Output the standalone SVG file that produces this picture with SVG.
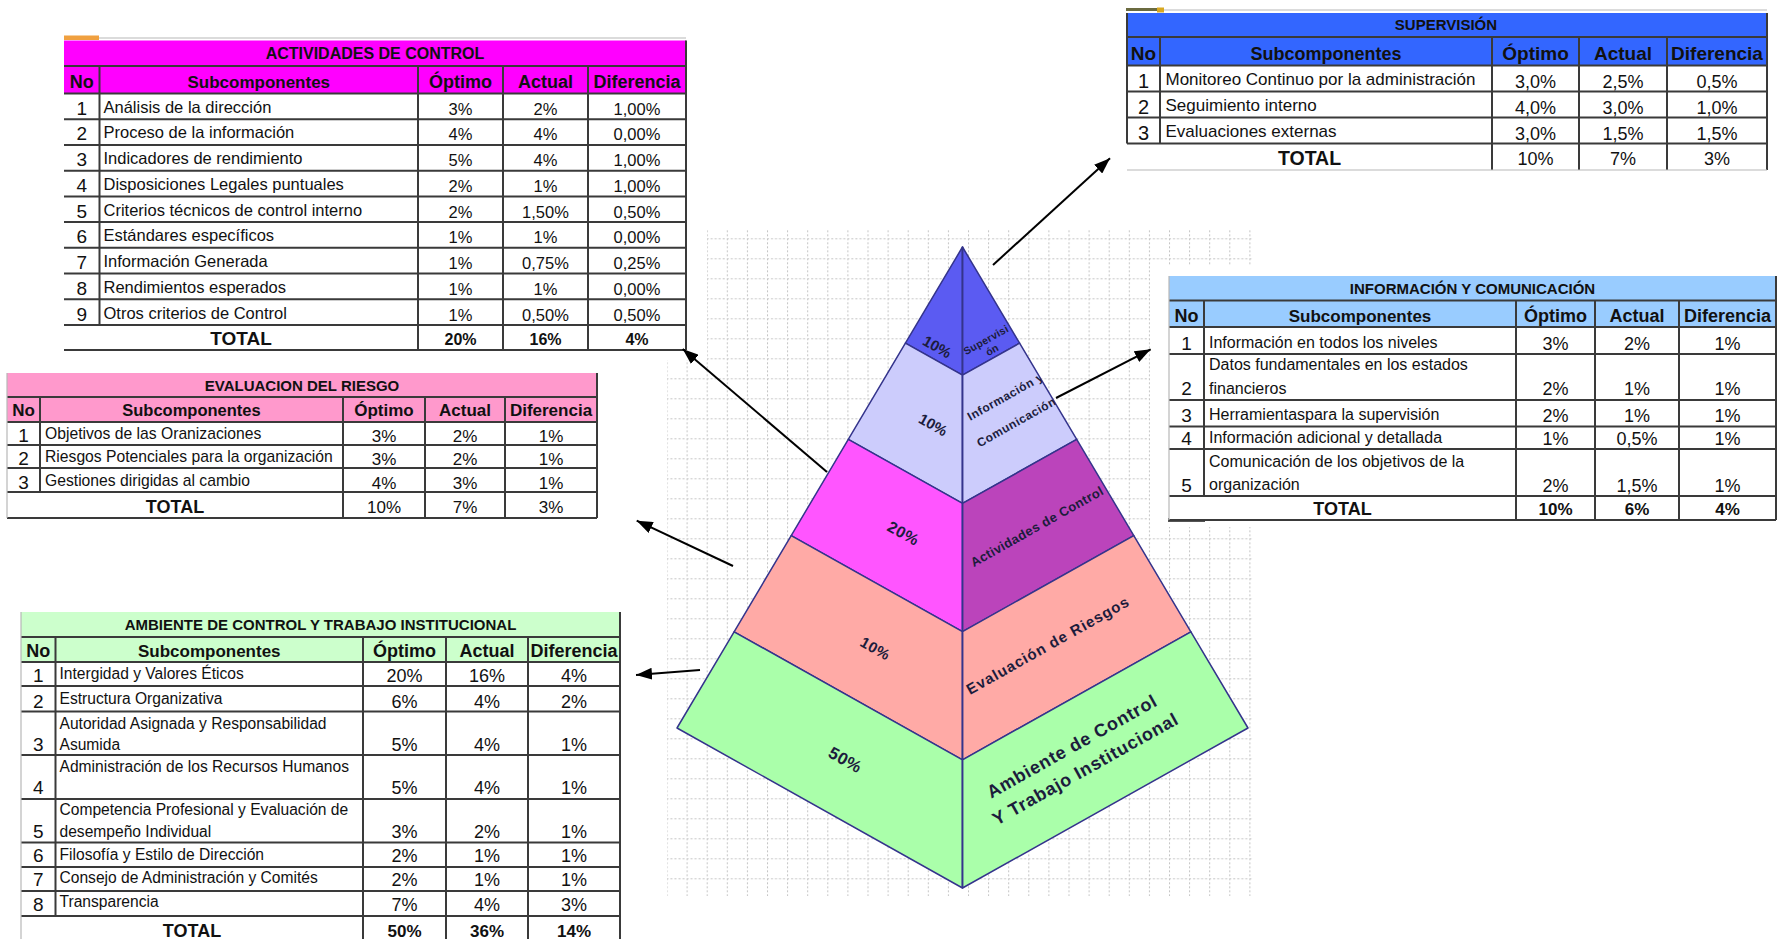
<svg xmlns="http://www.w3.org/2000/svg" width="1778" height="939" viewBox="0 0 1778 939">
<style>
text { font-family: "Liberation Sans", Arial, sans-serif; fill: #111; }
.b { font-weight: bold; }
.m { text-anchor: middle; }
.ln { stroke: #3a3a3a; stroke-width: 2; fill: none; }
.lt { stroke: #b8b8b8; stroke-width: 1.2; fill: none; }
.face { stroke: #34348c; stroke-width: 1.5; stroke-linejoin: round; }
.pl { font-weight: bold; fill: #1c1c3c; text-anchor: middle; }
.arr { stroke: #000; stroke-width: 2; fill: none; marker-end: url(#ah); }
</style>
<defs>
<pattern id="grid" x="706.7" y="238.3" width="20.1" height="20" patternUnits="userSpaceOnUse">
<path d="M0,0.5 H20.1 M0.5,0 V20" fill="none" stroke="#c4c4c4" stroke-width="1" stroke-dasharray="2 2"/>
</pattern>
<marker id="ah" viewBox="0 0 16 12" refX="16" refY="6" markerWidth="16" markerHeight="12" markerUnits="userSpaceOnUse" orient="auto">
<path d="M0,0 L16,6 L0,12 z" fill="#000"/>
</marker>
<clipPath id="clip1"><polygon points="962.5,247 1019.6,343.2 962.5,375.2 905.4,343.2"/></clipPath>
<clipPath id="clip2"><polygon points="905.4,343.2 962.5,375.2 1019.6,343.2 1076.7,439.4 962.5,503.4 848.3,439.4"/></clipPath>
<clipPath id="clip3"><polygon points="848.3,439.4 962.5,503.4 1076.7,439.4 1133.8,535.6 962.5,631.6 791.2,535.6"/></clipPath>
</defs>
<rect width="1778" height="939" fill="#fff"/>

<!-- background grid -->
<path d="M707,229 H1253 V266 H1150 V527 H1253 V896 H667 V360 H707 Z" fill="url(#grid)"/>

<!-- small sheet artifacts -->
<rect x="64" y="35.5" width="35" height="4.5" fill="#f0a040"/>
<path class="lt" d="M99,38 H686"/>
<rect x="1126" y="8" width="33" height="3" fill="#6b6b40"/>
<rect x="1157" y="7.5" width="7" height="5" fill="#d8a820"/>
<path class="lt" d="M1164,10 H1767"/>
<rect x="1168" y="518" width="37" height="4" fill="#555"/>

<!-- ACTIVIDADES DE CONTROL -->
<g id="tbl-actividades">
<rect x="64" y="40.5" width="622" height="53" fill="#ff00ff"/>
<rect x="64" y="93.5" width="622" height="256.5" fill="#fff"/>
<path class="ln" d="M64,66 H686 M64,93.5 H686 M64,119.2 H686 M64,144.9 H686 M64,170.7 H686 M64,196.4 H686 M64,222.1 H686 M64,247.8 H686 M64,273.5 H686 M64,299.3 H686 M64,325 H686 M64,350 H686 M99.5,66 V325 M418,66 V350 M503,66 V350 M588,66 V350 M686,40.5 V350"/>
<text class="b m" x="375" y="59" font-size="16">ACTIVIDADES DE CONTROL</text>
<g class="b m" font-size="18">
<text x="81.75" y="87.5">No</text><text x="258.75" y="87.5" font-size="17">Subcomponentes</text><text x="460.5" y="87.5">Óptimo</text><text x="545.5" y="87.5">Actual</text><text x="637" y="87.5">Diferencia</text>
</g>
<g class="m" font-size="19">
<text x="81.75" y="114.7">1</text><text x="81.75" y="140.4">2</text><text x="81.75" y="166.2">3</text><text x="81.75" y="191.9">4</text><text x="81.75" y="217.6">5</text><text x="81.75" y="243.3">6</text><text x="81.75" y="269">7</text><text x="81.75" y="294.8">8</text><text x="81.75" y="320.5">9</text>
</g>
<g font-size="16.5">
<text x="103.5" y="112.7">Análisis de la dirección</text>
<text x="103.5" y="138.4">Proceso de la información</text>
<text x="103.5" y="164.2">Indicadores de rendimiento</text>
<text x="103.5" y="189.9">Disposiciones Legales puntuales</text>
<text x="103.5" y="215.6">Criterios técnicos de control interno</text>
<text x="103.5" y="241.3">Estándares específicos</text>
<text x="103.5" y="267">Información Generada</text>
<text x="103.5" y="292.8">Rendimientos esperados</text>
<text x="103.5" y="318.5">Otros criterios de Control</text>
</g>
<g class="m" font-size="16.5">
<text x="460.5" y="114.7">3%</text><text x="545.5" y="114.7">2%</text><text x="637" y="114.7">1,00%</text>
<text x="460.5" y="140.4">4%</text><text x="545.5" y="140.4">4%</text><text x="637" y="140.4">0,00%</text>
<text x="460.5" y="166.2">5%</text><text x="545.5" y="166.2">4%</text><text x="637" y="166.2">1,00%</text>
<text x="460.5" y="191.9">2%</text><text x="545.5" y="191.9">1%</text><text x="637" y="191.9">1,00%</text>
<text x="460.5" y="217.6">2%</text><text x="545.5" y="217.6">1,50%</text><text x="637" y="217.6">0,50%</text>
<text x="460.5" y="243.3">1%</text><text x="545.5" y="243.3">1%</text><text x="637" y="243.3">0,00%</text>
<text x="460.5" y="269">1%</text><text x="545.5" y="269">0,75%</text><text x="637" y="269">0,25%</text>
<text x="460.5" y="294.8">1%</text><text x="545.5" y="294.8">1%</text><text x="637" y="294.8">0,00%</text>
<text x="460.5" y="320.5">1%</text><text x="545.5" y="320.5">0,50%</text><text x="637" y="320.5">0,50%</text>
</g>
<text class="b m" x="241" y="345" font-size="19">TOTAL</text>
<g class="b m" font-size="16">
<text x="460.5" y="345">20%</text><text x="545.5" y="345">16%</text><text x="637" y="345">4%</text>
</g>
</g>

<!-- SUPERVISION -->
<g id="tbl-supervision">
<rect x="1127" y="13" width="640" height="52.5" fill="#3366ff"/>
<rect x="1127" y="65.5" width="640" height="104.5" fill="#fff"/>
<path class="ln" d="M1127,37 H1767 M1127,65.5 H1767 M1127,91.5 H1767 M1127,117.5 H1767 M1127,143.5 H1767 M1127,13 V143.5 M1160,37 V143.5 M1492,37 V170 M1579,37 V170 M1667,37 V170 M1767,13 V170"/>
<path class="lt" d="M1127,170 H1767"/>
<text class="b m" x="1446" y="29.5" font-size="15">SUPERVISIÓN</text>
<g class="b m" font-size="19">
<text x="1143.5" y="59.5">No</text><text x="1326" y="59.5" font-size="18">Subcomponentes</text><text x="1535.5" y="59.5">Óptimo</text><text x="1623" y="59.5">Actual</text><text x="1717" y="59.5">Diferencia</text>
</g>
<g class="m" font-size="20">
<text x="1143.5" y="88">1</text><text x="1143.5" y="114">2</text><text x="1143.5" y="140">3</text>
</g>
<g font-size="17">
<text x="1165.5" y="84.5">Monitoreo Continuo por la administración</text>
<text x="1165.5" y="110.5">Seguimiento interno</text>
<text x="1165.5" y="136.5">Evaluaciones externas</text>
</g>
<g class="m" font-size="18">
<text x="1535.5" y="88">3,0%</text><text x="1623" y="88">2,5%</text><text x="1717" y="88">0,5%</text>
<text x="1535.5" y="114">4,0%</text><text x="1623" y="114">3,0%</text><text x="1717" y="114">1,0%</text>
<text x="1535.5" y="140">3,0%</text><text x="1623" y="140">1,5%</text><text x="1717" y="140">1,5%</text>
<text x="1535.5" y="165">10%</text><text x="1623" y="165">7%</text><text x="1717" y="165">3%</text>
</g>
<text class="b m" x="1309.5" y="165" font-size="19.5">TOTAL</text>
</g>

<!-- INFORMACION Y COMUNICACION -->
<g id="tbl-informacion">
<rect x="1169" y="276" width="607" height="51" fill="#99ccff"/>
<rect x="1169" y="327" width="607" height="193" fill="#fff"/>
<path class="ln" d="M1169,300.5 H1776 M1169,327 H1776 M1169,354 H1776 M1169,400 H1776 M1169,426.5 H1776 M1169,449 H1776 M1169,496 H1776 M1169,520 H1776 M1204,300.5 V496 M1516,300.5 V520 M1595,300.5 V520 M1679,300.5 V520 M1776,276 V520"/>
<path class="lt" d="M1169,276 V520"/>
<text class="b m" x="1472.5" y="293.5" font-size="15">INFORMACIÓN Y COMUNICACIÓN</text>
<g class="b m" font-size="18">
<text x="1186.5" y="321.5">No</text><text x="1360" y="321.5" font-size="17">Subcomponentes</text><text x="1555.5" y="321.5">Óptimo</text><text x="1637" y="321.5">Actual</text><text x="1727.5" y="321.5">Diferencia</text>
</g>
<g class="m" font-size="19">
<text x="1186.5" y="349.5">1</text><text x="1186.5" y="395">2</text><text x="1186.5" y="422">3</text><text x="1186.5" y="444.5">4</text><text x="1186.5" y="491.5">5</text>
</g>
<g font-size="16">
<text x="1209" y="347.5">Información en todos los niveles</text>
<text x="1209" y="370">Datos fundamentales en los estados</text>
<text x="1209" y="393.5">financieros</text>
<text x="1209" y="420">Herramientaspara la supervisión</text>
<text x="1209" y="442.5">Información adicional y detallada</text>
<text x="1209" y="466.5">Comunicación de los objetivos de la</text>
<text x="1209" y="490">organización</text>
</g>
<g class="m" font-size="18">
<text x="1555.5" y="349.5">3%</text><text x="1637" y="349.5">2%</text><text x="1727.5" y="349.5">1%</text>
<text x="1555.5" y="395">2%</text><text x="1637" y="395">1%</text><text x="1727.5" y="395">1%</text>
<text x="1555.5" y="422">2%</text><text x="1637" y="422">1%</text><text x="1727.5" y="422">1%</text>
<text x="1555.5" y="444.5">1%</text><text x="1637" y="444.5">0,5%</text><text x="1727.5" y="444.5">1%</text>
<text x="1555.5" y="491.5">2%</text><text x="1637" y="491.5">1,5%</text><text x="1727.5" y="491.5">1%</text>
</g>
<text class="b m" x="1342.5" y="515" font-size="18">TOTAL</text>
<g class="b m" font-size="17">
<text x="1555.5" y="515">10%</text><text x="1637" y="515">6%</text><text x="1727.5" y="515">4%</text>
</g>
</g>

<!-- EVALUACION DEL RIESGO -->
<g id="tbl-evaluacion">
<rect x="7" y="373" width="590" height="49" fill="#ff99cc"/>
<rect x="7" y="422" width="590" height="96" fill="#fff"/>
<path class="ln" d="M7,397 H597 M7,422 H597 M7,445 H597 M7,468 H597 M7,492 H597 M7,518 H597 M40,397 V492 M343,397 V518 M425,397 V518 M505,397 V518 M597,373 V518"/>
<path class="lt" d="M7,373 V518"/>
<text class="b m" x="302" y="390.5" font-size="15">EVALUACION DEL RIESGO</text>
<g class="b m" font-size="17">
<text x="23.5" y="416">No</text><text x="191.5" y="416" font-size="16.5">Subcomponentes</text><text x="384" y="416">Óptimo</text><text x="465" y="416">Actual</text><text x="551" y="416">Diferencia</text>
</g>
<g class="m" font-size="19">
<text x="23.5" y="441.5">1</text><text x="23.5" y="464.5">2</text><text x="23.5" y="488.5">3</text>
</g>
<g font-size="15.7">
<text x="45" y="438.5">Objetivos de las Oranizaciones</text>
<text x="45" y="461.5">Riesgos Potenciales para la organización</text>
<text x="45" y="485.5">Gestiones dirigidas al cambio</text>
</g>
<g class="m" font-size="17">
<text x="384" y="441.5">3%</text><text x="465" y="441.5">2%</text><text x="551" y="441.5">1%</text>
<text x="384" y="464.5">3%</text><text x="465" y="464.5">2%</text><text x="551" y="464.5">1%</text>
<text x="384" y="488.5">4%</text><text x="465" y="488.5">3%</text><text x="551" y="488.5">1%</text>
<text x="384" y="513">10%</text><text x="465" y="513">7%</text><text x="551" y="513">3%</text>
</g>
<text class="b m" x="175" y="513" font-size="18">TOTAL</text>
</g>

<!-- AMBIENTE DE CONTROL -->
<g id="tbl-ambiente">
<rect x="21" y="612" width="599" height="50" fill="#ccffcc"/>
<rect x="21" y="662" width="599" height="277" fill="#fff"/>
<path class="ln" d="M21,637 H620 M21,662 H620 M21,686 H620 M21,711.5 H620 M21,755 H620 M21,799 H620 M21,842.5 H620 M21,867 H620 M21,891 H620 M21,916 H620 M55.5,637 V916 M363,637 V939 M446,637 V939 M528,637 V939 M620,612 V939"/>
<path class="lt" d="M21,612 V939"/>
<text class="b m" x="320.5" y="630" font-size="15">AMBIENTE DE CONTROL Y TRABAJO INSTITUCIONAL</text>
<g class="b m" font-size="18">
<text x="38.25" y="656.5">No</text><text x="209.25" y="656.5" font-size="17">Subcomponentes</text><text x="404.5" y="656.5">Óptimo</text><text x="487" y="656.5">Actual</text><text x="574" y="656.5">Diferencia</text>
</g>
<g class="m" font-size="19">
<text x="38.25" y="682">1</text><text x="38.25" y="707.5">2</text><text x="38.25" y="751">3</text><text x="38.25" y="794">4</text><text x="38.25" y="837.5">5</text><text x="38.25" y="862">6</text><text x="38.25" y="886">7</text><text x="38.25" y="911">8</text>
</g>
<g font-size="15.6">
<text x="59.5" y="679">Intergidad y Valores Éticos</text>
<text x="59.5" y="704">Estructura Organizativa</text>
<text x="59.5" y="728.5">Autoridad Asignada y Responsabilidad</text>
<text x="59.5" y="750">Asumida</text>
<text x="59.5" y="772">Administración de los Recursos Humanos</text>
<text x="59.5" y="815">Competencia Profesional y Evaluación de</text>
<text x="59.5" y="836.5">desempeño Individual</text>
<text x="59.5" y="859.5">Filosofía y Estilo de Dirección</text>
<text x="59.5" y="883">Consejo de Administración y Comités</text>
<text x="59.5" y="907">Transparencia</text>
</g>
<g class="m" font-size="18">
<text x="404.5" y="682">20%</text><text x="487" y="682">16%</text><text x="574" y="682">4%</text>
<text x="404.5" y="707.5">6%</text><text x="487" y="707.5">4%</text><text x="574" y="707.5">2%</text>
<text x="404.5" y="751">5%</text><text x="487" y="751">4%</text><text x="574" y="751">1%</text>
<text x="404.5" y="794">5%</text><text x="487" y="794">4%</text><text x="574" y="794">1%</text>
<text x="404.5" y="837.5">3%</text><text x="487" y="837.5">2%</text><text x="574" y="837.5">1%</text>
<text x="404.5" y="862">2%</text><text x="487" y="862">1%</text><text x="574" y="862">1%</text>
<text x="404.5" y="886">2%</text><text x="487" y="886">1%</text><text x="574" y="886">1%</text>
<text x="404.5" y="911">7%</text><text x="487" y="911">4%</text><text x="574" y="911">3%</text>
</g>
<text class="b m" x="192" y="936.5" font-size="18">TOTAL</text>
<g class="b m" font-size="17">
<text x="404.5" y="936.5">50%</text><text x="487" y="936.5">36%</text><text x="574" y="936.5">14%</text>
</g>
</g>

<!-- PYRAMID -->
<g id="pyramid">
<g id="lvl-supervision">
<polygon class="face" fill="#5b5bf2" points="962.5,247 962.5,375.2 905.4,343.2"/>
<polygon class="face" fill="#5b5bf2" points="962.5,247 1019.6,343.2 962.5,375.2"/>
<g clip-path="url(#clip1)">
<text class="pl" font-size="15" transform="translate(937,347) rotate(29.3)" y="5">10%</text>
<text class="pl" font-size="10.5" letter-spacing="0.3" transform="translate(986,340) rotate(-29.3)" y="3.5">Supervisi</text>
<text class="pl" font-size="10.5" transform="translate(992,350) rotate(-29.3)" y="3.5">ón</text>
</g>
</g>
<g id="lvl-informacion">
<polygon class="face" fill="#ccccfc" points="905.4,343.2 962.5,375.2 962.5,503.4 848.3,439.4"/>
<polygon class="face" fill="#ccccfc" points="962.5,375.2 1019.6,343.2 1076.7,439.4 962.5,503.4"/>
<g clip-path="url(#clip2)">
<text class="pl" font-size="15" transform="translate(933,425) rotate(29.3)" y="5">10%</text>
<text class="pl" font-size="12" letter-spacing="0.5" transform="translate(1005.5,396.6) rotate(-29.3)" y="4">Información y</text>
<text class="pl" font-size="12" letter-spacing="0.5" transform="translate(1016.4,422.2) rotate(-29.3)" y="4">Comunicación</text>
</g>
</g>
<g id="lvl-actividades">
<polygon class="face" fill="#ff55ff" points="848.3,439.4 962.5,503.4 962.5,631.6 791.2,535.6"/>
<polygon class="face" fill="#bb44bb" points="962.5,503.4 1076.7,439.4 1133.8,535.6 962.5,631.6"/>
<g clip-path="url(#clip3)">
<text class="pl" font-size="16" letter-spacing="0.5" transform="translate(903.4,533.3) rotate(29.3)" y="5.5">20%</text>
<text class="pl" font-size="13" letter-spacing="0.4" transform="translate(1037,526.5) rotate(-29.3)" y="4.5">Actividades de Control</text>
</g>
</g>
<g id="lvl-evaluacion">
<polygon class="face" fill="#ffaaa6" points="791.2,535.6 962.5,631.6 962.5,759.8 734.1,631.8"/>
<polygon class="face" fill="#ffaaa6" points="962.5,631.6 1133.8,535.6 1190.9,631.8 962.5,759.8"/>
<text class="pl" font-size="15" letter-spacing="0.5" transform="translate(875.3,648.7) rotate(29.3)" y="5">10%</text>
<text class="pl" font-size="15" letter-spacing="1" transform="translate(1048,645.5) rotate(-29.3)" y="5">Evaluación de Riesgos</text>
</g>
<g id="lvl-ambiente">
<polygon class="face" fill="#aaffaa" points="734.1,631.8 962.5,759.8 962.5,888 677,728"/>
<polygon class="face" fill="#aaffaa" points="962.5,759.8 1190.9,631.8 1248,728 962.5,888"/>
<text class="pl" font-size="17" letter-spacing="0.5" transform="translate(845.4,759.8) rotate(29.3)" y="6">50%</text>
<text class="pl" font-size="18" letter-spacing="0.8" transform="translate(1072,746.5) rotate(-29.3)" y="6">Ambiente de Control</text>
<text class="pl" font-size="18" letter-spacing="0.8" transform="translate(1085.5,769) rotate(-29.3)" y="6">Y Trabajo Institucional</text>
</g>
<path d="M962.5,247 V888" fill="none" stroke="#34348c" stroke-width="1.5"/>
</g>

<!-- CONNECTORS -->
<g id="connectors">
<path class="arr" d="M993,265 L1110,158.3"/>
<path class="arr" d="M1056,398 L1150.7,349.3"/>
<path class="arr" d="M827,472 L682.7,349"/>
<path class="arr" d="M733,566 L636.7,520.7"/>
<path class="arr" d="M700,670 L636,675"/>
</g>
</svg>
